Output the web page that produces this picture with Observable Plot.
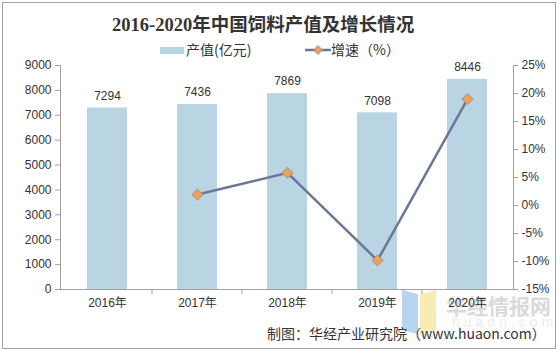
<!DOCTYPE html>
<html><head><meta charset="utf-8">
<script src="https://cdn.jsdelivr.net/npm/d3@7"></script>
<script src="https://cdn.jsdelivr.net/npm/@observablehq/plot@0.6"></script>
<style>
body{margin:0;background:#fff;}
#wrap{position:relative;width:560px;height:354px;overflow:hidden;font-family:"Liberation Sans",Arial,"Noto Sans CJK SC",sans-serif;color:#333;}
#frame{position:absolute;left:2px;top:2px;width:552px;height:345px;border:1px solid #a0a0a0;}
#chart{position:absolute;left:0;top:0;}
#title{position:absolute;top:10px;left:112px;white-space:nowrap;font:bold 18.5px "Liberation Serif","DejaVu Serif","Noto Sans CJK SC",serif;color:#333;}
.leg{position:absolute;top:41px;font-size:14px;white-space:nowrap;font-family:"Noto Sans CJK SC",sans-serif;color:#333;line-height:16px;}
#wm{position:absolute;left:446px;top:290px;font:bold 21px "Noto Sans CJK SC",sans-serif;color:#dadada;white-space:nowrap;}
#wm2{position:absolute;left:452px;top:314px;font:14px "Liberation Sans",sans-serif;letter-spacing:4px;color:#ececec;}
#logo1{position:absolute;left:402px;top:292px;width:16px;height:40px;background:#a8c8f0;opacity:.8;transform:skewY(15deg);}
#logo2{position:absolute;left:420px;top:292px;width:16px;height:40px;background:#f5e7a0;opacity:.8;transform:skewY(-15deg);}
#cap{position:absolute;left:267px;top:325px;font-size:14px;white-space:nowrap;font-family:"Noto Sans CJK SC",sans-serif;color:#333;line-height:16px;}
</style></head>
<body>
<div id="wrap">
<div id="frame"></div>
<div id="logo1"></div><div id="logo2"></div>
<div id="wm">华经情报网</div>
<div id="wm2">huaon.com</div>
<div id="chart"></div>
<div id="title">2016-2020年中国饲料产值及增长情况</div>
<div class="leg" style="left:160px;"><span style="display:inline-block;width:24px;height:7px;background:#b9d4e3;vertical-align:middle;margin-right:2px;position:relative;top:-1px"></span>产值(亿元)</div>
<div class="leg" style="left:305px;"><svg width="26" height="12" style="vertical-align:middle;position:relative;top:-1px"><line x1="0" y1="6" x2="26" y2="6" stroke="#6a7796" stroke-width="2.5"/><path d="M13 1.5L17.5 6L13 10.5L8.5 6Z" fill="#f0a055" stroke="#8a8a8a" stroke-width="0.8"/></svg>增速（%）</div>
<div id="cap">制图：华经产业研究院（www.huaon.com）</div>
</div>
<script>
const years = ["2016年","2017年","2018年","2019年","2020年"];
const output = [7294, 7436, 7869, 7098, 8446];
const growthYears = ["2017年","2018年","2019年","2020年"];
const growth = [1.95, 5.82, -9.80, 18.99];
const leftTicks = [0,1000,2000,3000,4000,5000,6000,7000,8000,9000];
const rightTicks = [-15,-10,-5,0,5,10,15,20,25];

const yMax = 9000, gMin = -15, gMax = 25;
const toY = g => (g - gMin) / (gMax - gMin) * yMax;

const bars = years.map((y,i)=>({year:y, value:output[i]}));
const gData = growthYears.map((y,i)=>({year:y, g:growth[i]}));

const axisColor = "#a0a0a0";
const chart = Plot.plot({
  width: 560, height: 354,
  marginLeft: 60, marginRight: 47, marginTop: 65, marginBottom: 65,
  style: {fontFamily: '"Liberation Sans", Arial, "Noto Sans CJK SC", sans-serif', fontSize: "12px", color: "#333", background: "transparent"},
  x: {domain: years, paddingInner: 0.56, paddingOuter: 0.28, label: null},
  y: {domain: [0, yMax], label: null},
  marks: [
    Plot.barY(bars, {x: "year", y: "value", fill: "#b9d4e3"}),
    Plot.text(bars, {x: "year", y: "value", text: d => String(d.value), dy: -12, fontSize: 12, fill: "#333"}),
    Plot.axisY(leftTicks, {anchor: "left", tickSize: 5, tickPadding: 4, stroke: axisColor, label: null, fontSize: 12, tickFormat: d => String(d)}),
    Plot.axisY(rightTicks.map(toY), {anchor: "right", tickSize: 4, tickPadding: 4, stroke: axisColor, label: null, fontSize: 12, tickFormat: v => `${Math.round(v / yMax * (gMax - gMin) + gMin)}%`}),
    Plot.frame({anchor: "right", stroke: axisColor}),
    Plot.frame({anchor: "left", stroke: axisColor}),
    Plot.axisX({tickSize: 0, tickPadding: 9, label: null, fontSize: 12}),
    Plot.ruleY([0], {stroke: axisColor}),
    Plot.line(gData, {x: "year", y: d => toY(d.g), stroke: "#6a7796", strokeWidth: 2.5}),
    Plot.dot(gData, {x: "year", y: d => toY(d.g), symbol: "diamond2", r: 5, fill: "#f0a055", stroke: "#8a8a8a", strokeWidth: 0.8})
  ]
});
// category boundary ticks on the x axis, derived from the band scale
const xs = chart.scale("x"), ys = chart.scale("y");
const y0 = ys.apply(0);
const gap = (xs.step - xs.bandwidth) / 2;
d3.select(chart).append("g")
  .attr("stroke", axisColor)
  .selectAll("line")
  .data(years.slice(1))
  .join("line")
  .attr("x1", d => xs.apply(d) - gap).attr("x2", d => xs.apply(d) - gap)
  .attr("y1", y0).attr("y2", y0 + 5);
document.getElementById("chart").appendChild(chart);
</script>
</body></html>
